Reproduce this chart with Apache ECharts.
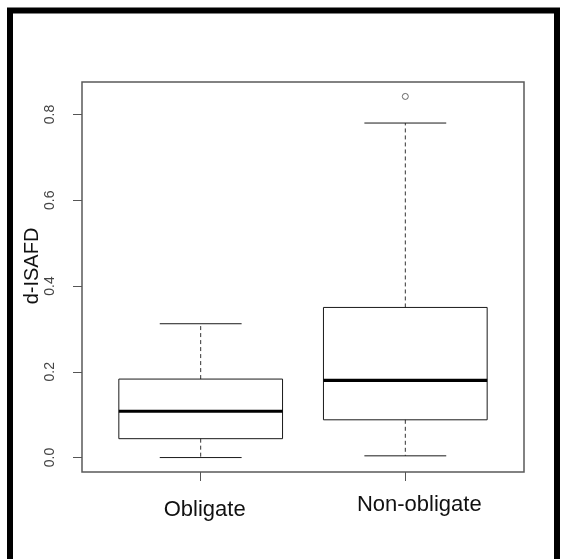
<!DOCTYPE html>
<html>
<head>
<meta charset="utf-8">
<script src="https://cdn.jsdelivr.net/npm/echarts@6/dist/echarts.min.js"></script>
<style>
  html, body { margin: 0; padding: 0; background: #ffffff; }
  #chart { width: 561px; height: 559px; }
</style>
</head>
<body>
<div id="chart"></div>
<script>
// Five-number summaries of d-ISAFD per interface class
const categories   = ['Obligate', 'Non-obligate'];
const lowerWhisker = [0.000, 0.004];
const q1           = [0.044, 0.088];
const medians      = [0.108, 0.180];
const q3           = [0.183, 0.350];
const upperWhisker = [0.312, 0.780];
// Points beyond the whiskers: [group position, value]
const outliers     = [[2, 0.842]];
const yTicks       = [0.0, 0.2, 0.4, 0.6, 0.8];
const xPositions   = [1, 2];

const boxData = categories.map((c, i) => [
  xPositions[i], lowerWhisker[i], q1[i], medians[i], q3[i], upperWhisker[i]
]);

const chart = echarts.init(document.getElementById('chart'), null, { renderer: 'canvas' });

const BOX_WIDTH = 0.8;     // in x units
const STAPLE_WIDTH = 0.4;  // in x units
const lineColor = '#1a1a1a';

function renderBox(params, api) {
  const x = api.value(0);
  const lw = api.coord([x, api.value(1)]);
  const b1 = api.coord([x, api.value(2)]);
  const md = api.coord([x, api.value(3)]);
  const b3 = api.coord([x, api.value(4)]);
  const uw = api.coord([x, api.value(5)]);
  const halfBox = api.size([BOX_WIDTH, 0])[0] / 2;
  const halfStaple = api.size([STAPLE_WIDTH, 0])[0] / 2;
  const cx = lw[0];
  const thin = { stroke: lineColor, lineWidth: 1, fill: null };
  const dashed = { stroke: '#333333', lineWidth: 1, lineDash: [4, 3], fill: null };
  return {
    type: 'group',
    children: [
      { type: 'line', shape: { x1: cx, y1: b3[1], x2: cx, y2: uw[1] }, style: dashed },
      { type: 'line', shape: { x1: cx, y1: b1[1], x2: cx, y2: lw[1] }, style: dashed },
      { type: 'line', shape: { x1: cx - halfStaple, y1: uw[1], x2: cx + halfStaple, y2: uw[1] }, style: thin },
      { type: 'line', shape: { x1: cx - halfStaple, y1: lw[1], x2: cx + halfStaple, y2: lw[1] }, style: thin },
      { type: 'rect', shape: { x: cx - halfBox, y: b3[1], width: halfBox * 2, height: b1[1] - b3[1] }, style: thin },
      { type: 'line', shape: { x1: cx - halfBox, y1: md[1], x2: cx + halfBox, y2: md[1] }, style: { stroke: '#000000', lineWidth: 3.2 } }
    ]
  };
}

const option = {
  backgroundColor: '#ffffff',
  animation: false,
  graphic: [{
    type: 'rect',
    shape: { x: 10, y: 10.5, width: 547, height: 560 },
    style: { fill: null, stroke: '#000000', lineWidth: 6 },
    silent: true,
    z: 100
  }],
  grid: {
    left: 82, top: 82, width: 442, height: 390,
    show: true, borderColor: '#5a5a5a', borderWidth: 1.5, backgroundColor: 'transparent'
  },
  xAxis: {
    type: 'value',
    min: 0.42, max: 2.58,
    axisLine: { show: false, onZero: false },
    splitLine: { show: false },
    axisTick: { show: true, customValues: xPositions, length: 9, lineStyle: { color: '#555555', width: 1 } },
    axisLabel: {
      customValues: xPositions,
      margin: 22,
      formatter: v => {
        const i = Math.round(v) - 1;
        return i === 0 ? '{a|' + categories[0] + '}' : '{b|' + categories[1] + '}';
      },
      rich: {
        a: { fontFamily: 'Liberation Sans', fontSize: 22, color: '#111111', padding: [5, 0, 0, 8] },
        b: { fontFamily: 'Liberation Sans', fontSize: 22, color: '#111111', padding: [0, 0, 0, 28] }
      }
    }
  },
  yAxis: {
    type: 'value',
    min: -0.0337, max: 0.8757,
    name: 'd-ISAFD',
    nameLocation: 'middle',
    nameRotate: 90,
    nameGap: 40,
    nameMoveOverlap: false,
    nameTextStyle: { fontFamily: 'Liberation Sans', fontSize: 20, color: '#111111', padding: [0, 0, 0, 22] },
    axisLine: { show: false, onZero: false },
    splitLine: { show: false },
    axisTick: { show: true, customValues: yTicks, length: 9, lineStyle: { color: '#555555', width: 1 } },
    axisLabel: {
      customValues: yTicks,
      rotate: 90,
      margin: 25,
      fontFamily: 'Liberation Sans',
      fontSize: 14,
      color: '#444444',
      formatter: v => v.toFixed(1)
    }
  },
  series: [
    {
      type: 'custom',
      renderItem: renderBox,
      data: boxData,
      encode: { x: 0, y: [1, 2, 3, 4, 5] },
      clip: false
    },
    {
      type: 'scatter',
      data: outliers,
      symbol: 'circle',
      symbolSize: 6,
      itemStyle: { color: '#ffffff', borderColor: '#444444', borderWidth: 1 }
    }
  ]
};

chart.setOption(option);
</script>
</body>
</html>
